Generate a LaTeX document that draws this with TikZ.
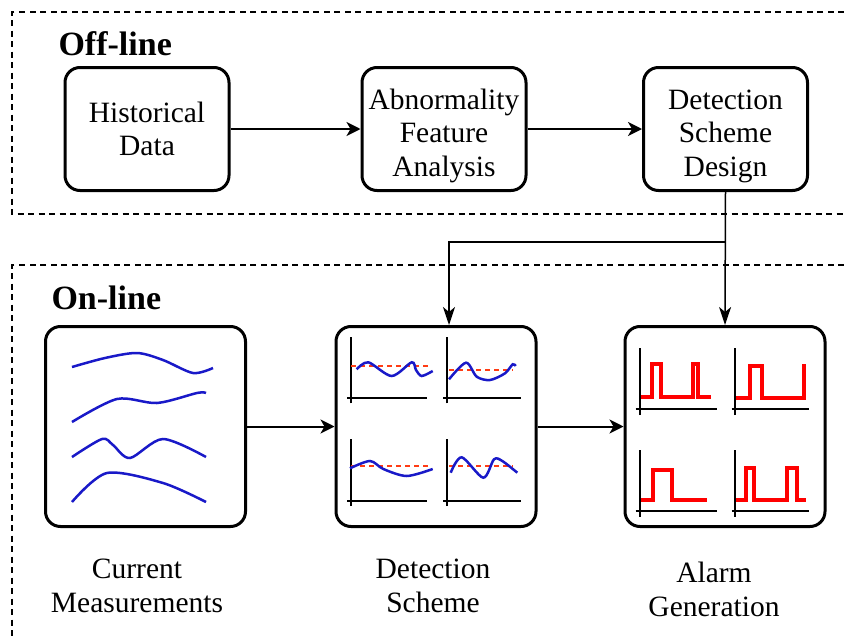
\documentclass[tikz,border=0pt]{standalone}
\usepackage{fontspec}
\setmainfont{Liberation Serif}
\usetikzlibrary{arrows.meta,positioning}

\definecolor{curveblue}{RGB}{25,25,200}
\definecolor{limitred}{RGB}{255,60,20}
\definecolor{alarmred}{RGB}{255,0,0}

\tikzset{
  stage/.style={draw,line width=3pt,rounded corners=15pt,align=center,
    font=\fontsize{29.5}{33.5}\selectfont},
  smallbox/.style={stage,minimum width=164pt,minimum height=123pt,inner sep=0pt},
  bigbox/.style={stage,minimum width=200pt,minimum height=200pt,inner sep=0pt},
  caption/.style={align=center,font=\fontsize{29.5}{34}\selectfont},
  heading/.style={font=\fontsize{34}{38}\selectfont\bfseries},
  region/.style={line width=1.5pt,dash pattern=on 6pt off 4.5pt},
  flow/.style={line width=2pt,-{Stealth[length=14pt,width=14pt,inset=4pt]}},
  feed/.style={line width=1.5pt,-{Stealth[length=18pt,width=12pt,inset=5pt]}},
  axes/.style={line width=2pt},
  signal/.style={line width=2.5pt,curveblue},
  limit/.style={line width=2pt,limitred,dash pattern=on 5pt off 4pt},
  alarm/.style={line width=4pt,alarmred}
}
% first line pushed down a little in the three-line boxes
\newcommand{\lowfirst}{\rule{0pt}{34pt}}

\begin{document}
\begin{tikzpicture}[x=1pt,y=-1pt]
	\useasboundingbox (0,0) rectangle (844,640);

	% Off-line part
	\draw[region] (844,12) -- (12,12) -- (12,214) -- (844,214);
	\node[heading,anchor=west] (offlbl) at (55,44) {Off-line};
	\node[smallbox] (hist) at (147,129) {Historical\\Data};
	\node[smallbox] (feat) at (444,129) {\lowfirst Abnormality\\Feature\\Analysis};
	\node[smallbox] (design) at (725.5,129) {\lowfirst Detection\\Scheme\\Design};
	\draw[flow] (hist) -- (feat);
	\draw[flow] (feat) -- (design);

	% On-line part
	\draw[region] (844,265) -- (12,265) -- (12,640);
	\node[heading,anchor=west] (onlbl) at (48,298) {On-line};
	\node[bigbox] (meas) at (145.5,426.5) {};
	\node[bigbox] (detect) at (436,426.5) {};
	\node[bigbox] (alarm) at (725,426.5) {};
	\draw[flow] (meas) -- (detect);
	\draw[flow] (detect) -- (alarm);

	\node[caption] (measlbl) at (137,586) {Current\\Measurements};
	\node[caption] (detectlbl) at (433,586) {Detection\\Scheme};
	\node[caption] (alarmlbl) at (714,589) {Alarm\\Generation};

	% design feeds both stages
	\coordinate (split) at (design.south |- 0,242);
	\coordinate (drop) at (449,242);
	\draw[feed] (design.south) -- (alarm.north);
	\draw[feed] (split) -- (drop) -- (drop |- detect.north);

	% current measurements
	\draw[signal] plot[smooth] coordinates {(72,367) (105,358) (137,353) (163,360) (193,373) (213,368)};
	\draw[signal] plot[smooth] coordinates {(72,422) (117,399) (157,403) (197,393) (206,393)};
	\draw[signal] plot[smooth] coordinates {(72,457) (102,439) (113,445) (130,458) (163,439) (206,457)};
	\draw[signal] plot[smooth] coordinates {(72,502) (107,473) (163,483) (206,502)};

	% detection scheme plots
	\begin{scope}[shift={(351,398.3)}]
		\draw[axes] (-4,0) -- (76,0);
		\draw[axes] (0,5) -- (0,-61);
		\draw[limit] (0,-32.6) -- (80.7,-32.6);
		\draw[signal] plot[smooth] coordinates {(5.7,-29) (17.3,-36) (40.7,-22.3) (60.7,-36) (65,-28.3) (70.7,-22.3) (81.7,-27.3)};
	\end{scope}
	\begin{scope}[shift={(446.7,398.3)}]
		\draw[axes] (-3.4,0) -- (74,0);
		\draw[axes] (0,5) -- (0,-61);
		\draw[limit] (2.3,-28.3) -- (66,-28.3);
		\draw[signal] plot[smooth] coordinates {(2.3,-19) (19.3,-35.6) (30,-21.6) (43.3,-18.3) (58.3,-25) (66,-34) (69,-32.3)};
	\end{scope}
	\begin{scope}[shift={(351,501)}]
		\draw[axes] (-4,0) -- (76,0);
		\draw[axes] (0,5) -- (0,-62);
		\draw[limit] (0,-35.3) -- (80.7,-35.3);
		\draw[signal] plot[smooth] coordinates {(-1,-32.7) (19,-40) (32.3,-32) (55.7,-25) (81.7,-32)};
	\end{scope}
	\begin{scope}[shift={(446.7,501)}]
		\draw[axes] (-3.4,0) -- (74,0);
		\draw[axes] (0,5) -- (0,-62);
		\draw[limit] (2.3,-35.3) -- (66,-35.3);
		\draw[signal] plot[smooth] coordinates {(4,-28.3) (15,-43.7) (36.6,-23.3) (47.3,-41.7) (55.6,-40) (70.6,-28.3)};
	\end{scope}

	% alarm plots
	\begin{scope}[shift={(640,409)}]
		\draw[axes] (-4.3,0) -- (76.7,0);
		\draw[axes] (0,6) -- (0,-60.7);
		\draw[alarm] (0.7,-12.3) -- (11.7,-12.3) -- (11.7,-45) -- (20.7,-45) -- (20.7,-12.3) -- (52.7,-12.3) -- (52.7,-45) -- (58.3,-45) -- (58.3,-12.3) -- (70.7,-12.3);
	\end{scope}
	\begin{scope}[shift={(735,409)}]
		\draw[axes] (-3.3,0) -- (74,0);
		\draw[axes] (0,6) -- (0,-60.7);
		\draw[alarm] (1,-10.7) -- (15,-10.7) -- (15,-43.3) -- (27.3,-43.3) -- (27.3,-10.7) -- (69,-10.7) -- (69,-43.3) -- (70.7,-43.3);
	\end{scope}
	\begin{scope}[shift={(640,510.7)}]
		\draw[axes] (-4.3,0) -- (76.7,0);
		\draw[axes] (0,6) -- (0,-60.7);
		\draw[alarm] (0.7,-10.7) -- (13.3,-10.7) -- (13.3,-40.7) -- (32.3,-40.7) -- (32.3,-10.7) -- (67.3,-10.7);
	\end{scope}
	\begin{scope}[shift={(735,510.7)}]
		\draw[axes] (-3.3,0) -- (74,0);
		\draw[axes] (0,6) -- (0,-60.7);
		\draw[alarm] (1,-10.7) -- (11,-10.7) -- (11,-43) -- (19.3,-43) -- (19.3,-10.7) -- (51.7,-10.7) -- (51.7,-43) -- (62.3,-43) -- (62.3,-10.7) -- (70.7,-10.7);
	\end{scope}
\end{tikzpicture}
\end{document}
